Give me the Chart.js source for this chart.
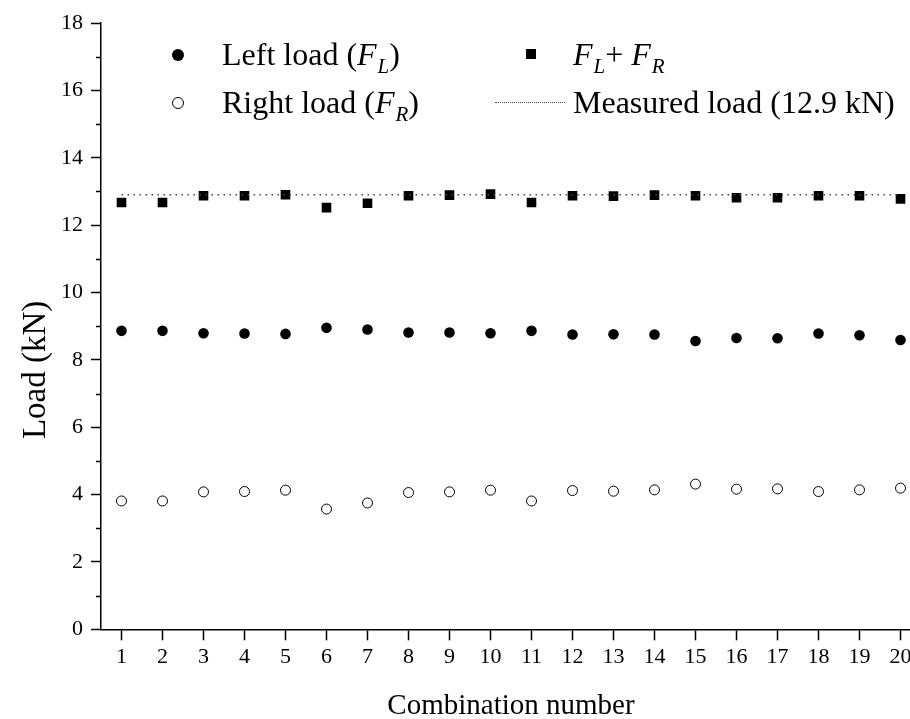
<!DOCTYPE html>
<html lang="en">
<head>
    <meta charset="UTF-8">
    <title>Load per combination</title>
    <script src="https://cdn.jsdelivr.net/npm/chart.js@4.4.1/dist/chart.umd.min.js"></script>
    <style>
        body {
            margin: 0;
            padding: 0;
            background: #fff;
            overflow: hidden;
            font-family: "Liberation Serif", "Times New Roman", serif;
        }
        .wrap {
            position: relative;
            width: 930px;
            height: 719px;
        }
        .legend {
            position: absolute;
            font-size: 32px;
            line-height: 32px;
            color: #000;
            white-space: nowrap;
        }
        .legend i { font-style: italic; }
        .legend sub {
            font-size: 21px;
            font-style: italic;
            vertical-align: -8px;
            line-height: 0;
            margin-left: 1px;
        }
        .mk {
            position: absolute;
            box-sizing: border-box;
        }
    </style>
</head>
<body>
    <div class="wrap">
        <canvas id="loadChart"></canvas>

        <!-- legend -->
        <div class="mk" style="left:172px;top:49px;width:12px;height:12px;border-radius:50%;background:#000;"></div>
        <div class="legend" style="left:222px;top:38px;">Left load (<i>F</i><sub>L</sub>)</div>
        <div class="mk" style="left:172px;top:97px;width:12px;height:12px;border-radius:50%;border:1px solid #000;"></div>
        <div class="legend" style="left:222px;top:86px;">Right load (<i>F</i><sub>R</sub>)</div>
        <div class="mk" style="left:526px;top:49px;width:10px;height:10px;background:#000;"></div>
        <div class="legend" style="left:573px;top:38px;"><i>F</i><sub>L</sub>+ <i>F</i><sub>R</sub></div>
        <div class="mk" style="left:495px;top:102px;width:70px;height:0;border-top:1.5px dotted #555;"></div>
        <div class="legend" style="left:573px;top:86px;">Measured load (12.9 kN)</div>
    </div>

    <script>
        const combos = [1, 2, 3, 4, 5, 6, 7, 8, 9, 10, 11, 12, 13, 14, 15, 16, 17, 18, 19, 20];
        const leftLoad = [8.86, 8.86, 8.79, 8.78, 8.77, 8.95, 8.90, 8.81, 8.81, 8.79,
                          8.86, 8.75, 8.76, 8.75, 8.56, 8.65, 8.64, 8.78, 8.73, 8.59];
        const rightLoad = [3.81, 3.81, 4.08, 4.09, 4.13, 3.57, 3.75, 4.06, 4.08, 4.13,
                           3.81, 4.12, 4.10, 4.14, 4.31, 4.16, 4.17, 4.09, 4.14, 4.19];
        const totalLoad = [12.67, 12.67, 12.87, 12.87, 12.90, 12.52, 12.65, 12.87, 12.89, 12.92,
                           12.67, 12.87, 12.86, 12.89, 12.87, 12.81, 12.81, 12.87, 12.87, 12.78];
        const measuredLoad = 12.9;
        const yMinorTicks = [1, 3, 5, 7, 9, 11, 13, 15, 17];

        const serif = '"Liberation Serif", "Times New Roman", serif';

        function toPoints(values) {
            return combos.map((c, i) => ({ x: c, y: values[i] }));
        }

        // short minor ticks on the y axis + y axis title (sits a bit below centre)
        const axisExtras = {
            id: 'axisExtras',
            afterDraw(chart) {
                const ctx = chart.ctx;
                const y = chart.scales.y;
                ctx.save();
                ctx.strokeStyle = '#000';
                ctx.lineWidth = 1.5;
                ctx.beginPath();
                yMinorTicks.forEach(v => {
                    const py = Math.round(y.getPixelForValue(v)) + 0.5;
                    ctx.moveTo(y.right - 5, py);
                    ctx.lineTo(y.right, py);
                });
                ctx.stroke();

                ctx.translate(36, y.getPixelForValue(7.7));
                ctx.rotate(-Math.PI / 2);
                ctx.fillStyle = '#000';
                ctx.font = '33px ' + serif;
                ctx.textAlign = 'center';
                ctx.textBaseline = 'middle';
                ctx.fillText('Load (kN)', 0, 0);
                ctx.restore();
            }
        };

        const ctx = document.getElementById('loadChart').getContext('2d');
        new Chart(ctx, {
            type: 'scatter',
            data: {
                datasets: [
                    {
                        label: 'Measured load (12.9 kN)',
                        data: [{ x: combos[0], y: measuredLoad }, { x: combos[combos.length - 1], y: measuredLoad }],
                        showLine: true,
                        borderColor: '#444',
                        borderWidth: 1.5,
                        borderDash: [1.5, 4.5],
                        pointRadius: 0
                    },
                    {
                        label: 'Left load',
                        data: toPoints(leftLoad),
                        pointStyle: 'circle',
                        pointRadius: 5.3,
                        backgroundColor: '#000',
                        borderColor: '#000',
                        borderWidth: 0
                    },
                    {
                        label: 'Right load',
                        data: toPoints(rightLoad),
                        pointStyle: 'circle',
                        pointRadius: 5,
                        backgroundColor: '#fff',
                        borderColor: '#000',
                        borderWidth: 1
                    },
                    {
                        label: 'FL + FR',
                        data: toPoints(totalLoad),
                        pointStyle: 'rect',
                        pointRadius: 6.8,
                        backgroundColor: '#000',
                        borderColor: '#000',
                        borderWidth: 0
                    }
                ]
            },
            options: {
                responsive: true,
                maintainAspectRatio: false,
                animation: false,
                layout: {
                    padding: { top: 23, right: 9, bottom: 0, left: 0 }
                },
                plugins: {
                    legend: { display: false },
                    tooltip: { enabled: false }
                },
                scales: {
                    x: {
                        type: 'linear',
                        min: 0.5,
                        max: 20.5,
                        afterBuildTicks: scale => {
                            scale.ticks = combos.map(v => ({ value: v }));
                        },
                        afterFit: scale => {
                            scale.height = 89.7;
                        },
                        grid: {
                            drawOnChartArea: false,
                            drawTicks: true,
                            tickLength: 11,
                            tickColor: '#000',
                            tickWidth: 1.5
                        },
                        border: { color: '#000', width: 1.5 },
                        ticks: {
                            color: '#000',
                            font: { family: serif, size: 22 },
                            padding: 4,
                            maxRotation: 0,
                            autoSkip: false
                        },
                        title: {
                            display: true,
                            text: 'Combination number',
                            color: '#000',
                            font: { family: serif, size: 29, lineHeight: 1 },
                            padding: { top: 0, bottom: -2 }
                        }
                    },
                    y: {
                        min: 0,
                        max: 18,
                        afterFit: scale => {
                            scale.width = 101;
                        },
                        grid: {
                            drawOnChartArea: false,
                            drawTicks: true,
                            tickLength: 10,
                            tickColor: '#000',
                            tickWidth: 1.5
                        },
                        border: { color: '#000', width: 1.5 },
                        ticks: {
                            stepSize: 2,
                            color: '#000',
                            font: { family: serif, size: 22 },
                            padding: 8
                        },
                        title: { display: false }
                    }
                }
            },
            plugins: [axisExtras]
        });
    </script>
</body>
</html>
